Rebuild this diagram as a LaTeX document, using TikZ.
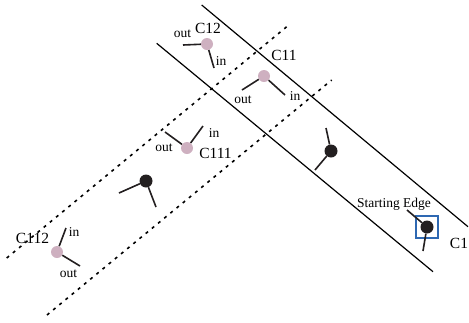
\documentclass[tikz,border=0pt]{standalone}
\usepackage{fontspec}
\setmainfont{Liberation Serif}
\definecolor{cellpink}{RGB}{206,176,192}
\definecolor{seedblack}{RGB}{35,31,32}
\definecolor{edgeblue}{RGB}{46,104,178}

\begin{document}
\begin{tikzpicture}[x=1pt,y=1pt,
    cell/.style={circle,fill=cellpink,minimum size=12pt,inner sep=0pt},
    seed/.style={circle,fill=seedblack,minimum size=13pt,inner sep=0pt},
    stub/.style={line width=1.6pt,seedblack},
    border/.style={line width=1.2pt},
    split/.style={line width=1.6pt,dash pattern=on 3pt off 5pt},
    lbl/.style={font=\fontsize{15.5}{16}\selectfont,anchor=base,inner sep=0pt},
    tag/.style={font=\fontsize{13.5}{14}\selectfont,anchor=base,inner sep=0pt}]
    \useasboundingbox (0,0) rectangle (469,-322);

    % cells
    \node[cell] (c12) at (207,-44) {};
    \node[cell] (c11) at (264,-76) {};
    \node[cell] (c111) at (187,-148) {};
    \node[cell] (c112) at (57,-252) {};
    \node[seed] (s1) at (146,-181) {};
    \node[seed] (s2) at (331,-151) {};
    \node[seed] (s3) at (427,-227) {};
    \node[draw=edgeblue,line width=1.4pt,minimum size=22pt,inner sep=0pt] (start) at (s3) {};

    % half edges
    \coordinate (c12o) at (183,-45);
    \coordinate (c12i) at (214,-68);
    \coordinate (c11o) at (242,-90);
    \coordinate (c11i) at (285,-95);
    \coordinate (c111o) at (165,-132);
    \coordinate (c111i) at (203,-126);
    \coordinate (c112i) at (66,-228);
    \coordinate (c112o) at (80,-266);
    \coordinate (s1a) at (119,-193);
    \coordinate (s1b) at (156,-207);
    \coordinate (s2a) at (326,-128);
    \coordinate (s2b) at (315,-170);
    \coordinate (s3a) at (407,-210);
    \coordinate (s3b) at (423,-251);
    \draw[stub] (c12) -- (c12o);
    \draw[stub] (c12) -- (c12i);
    \draw[stub] (c11) -- (c11o);
    \draw[stub] (c11) -- (c11i);
    \draw[stub] (c111) -- (c111o);
    \draw[stub] (c111) -- (c111i);
    \draw[stub] (c112) -- (c112i);
    \draw[stub] (c112) -- (c112o);
    \draw[stub] (s1) -- (s1a);
    \draw[stub] (s1) -- (s1b);
    \draw[stub] (s2) -- (s2a);
    \draw[stub] (s2) -- (s2b);
    \draw[stub] (s3) -- (s3a);
    \draw[stub] (s3) -- (s3b);

    % labels
    \node[lbl] (l12) at (208,-33) {C12};
    \node[lbl] (l11) at (284,-60) {C11};
    \node[lbl] (l111) at (215.5,-158) {C111};
    \node[lbl] (l112) at (32.5,-243) {C112};
    \node[lbl] (l1) at (459,-248) {C1};
    \node[tag] (lstart) at (394,-207) {Starting Edge};
    \node[tag] (o12) at (182.5,-37) {out};
    \node[tag] (i12) at (221,-65) {in};
    \node[tag] (o11) at (243,-103) {out};
    \node[tag] (i11) at (295,-100) {in};
    \node[tag] (o111) at (164,-151) {out};
    \node[tag] (i111) at (214,-137) {in};
    \node[tag] (o112) at (68.5,-277) {out};
    \node[tag] (i112) at (74,-236) {in};

    % strips
    \coordinate (ua) at (201.7,-5);
    \coordinate (ub) at (468,-226.7);
    \coordinate (la) at (156.7,-43.3);
    \coordinate (lb) at (433,-271.7);
    \coordinate (da) at (6.7,-258);
    \coordinate (db) at (290,-24);
    \coordinate (ea) at (47,-315);
    \coordinate (eb) at (331.7,-80);
    \draw[border] (ua) -- (ub);
    \draw[border] (la) -- (lb);
    \draw[split] (da) -- (db);
    \draw[split] (ea) -- (eb);
\end{tikzpicture}
\end{document}
